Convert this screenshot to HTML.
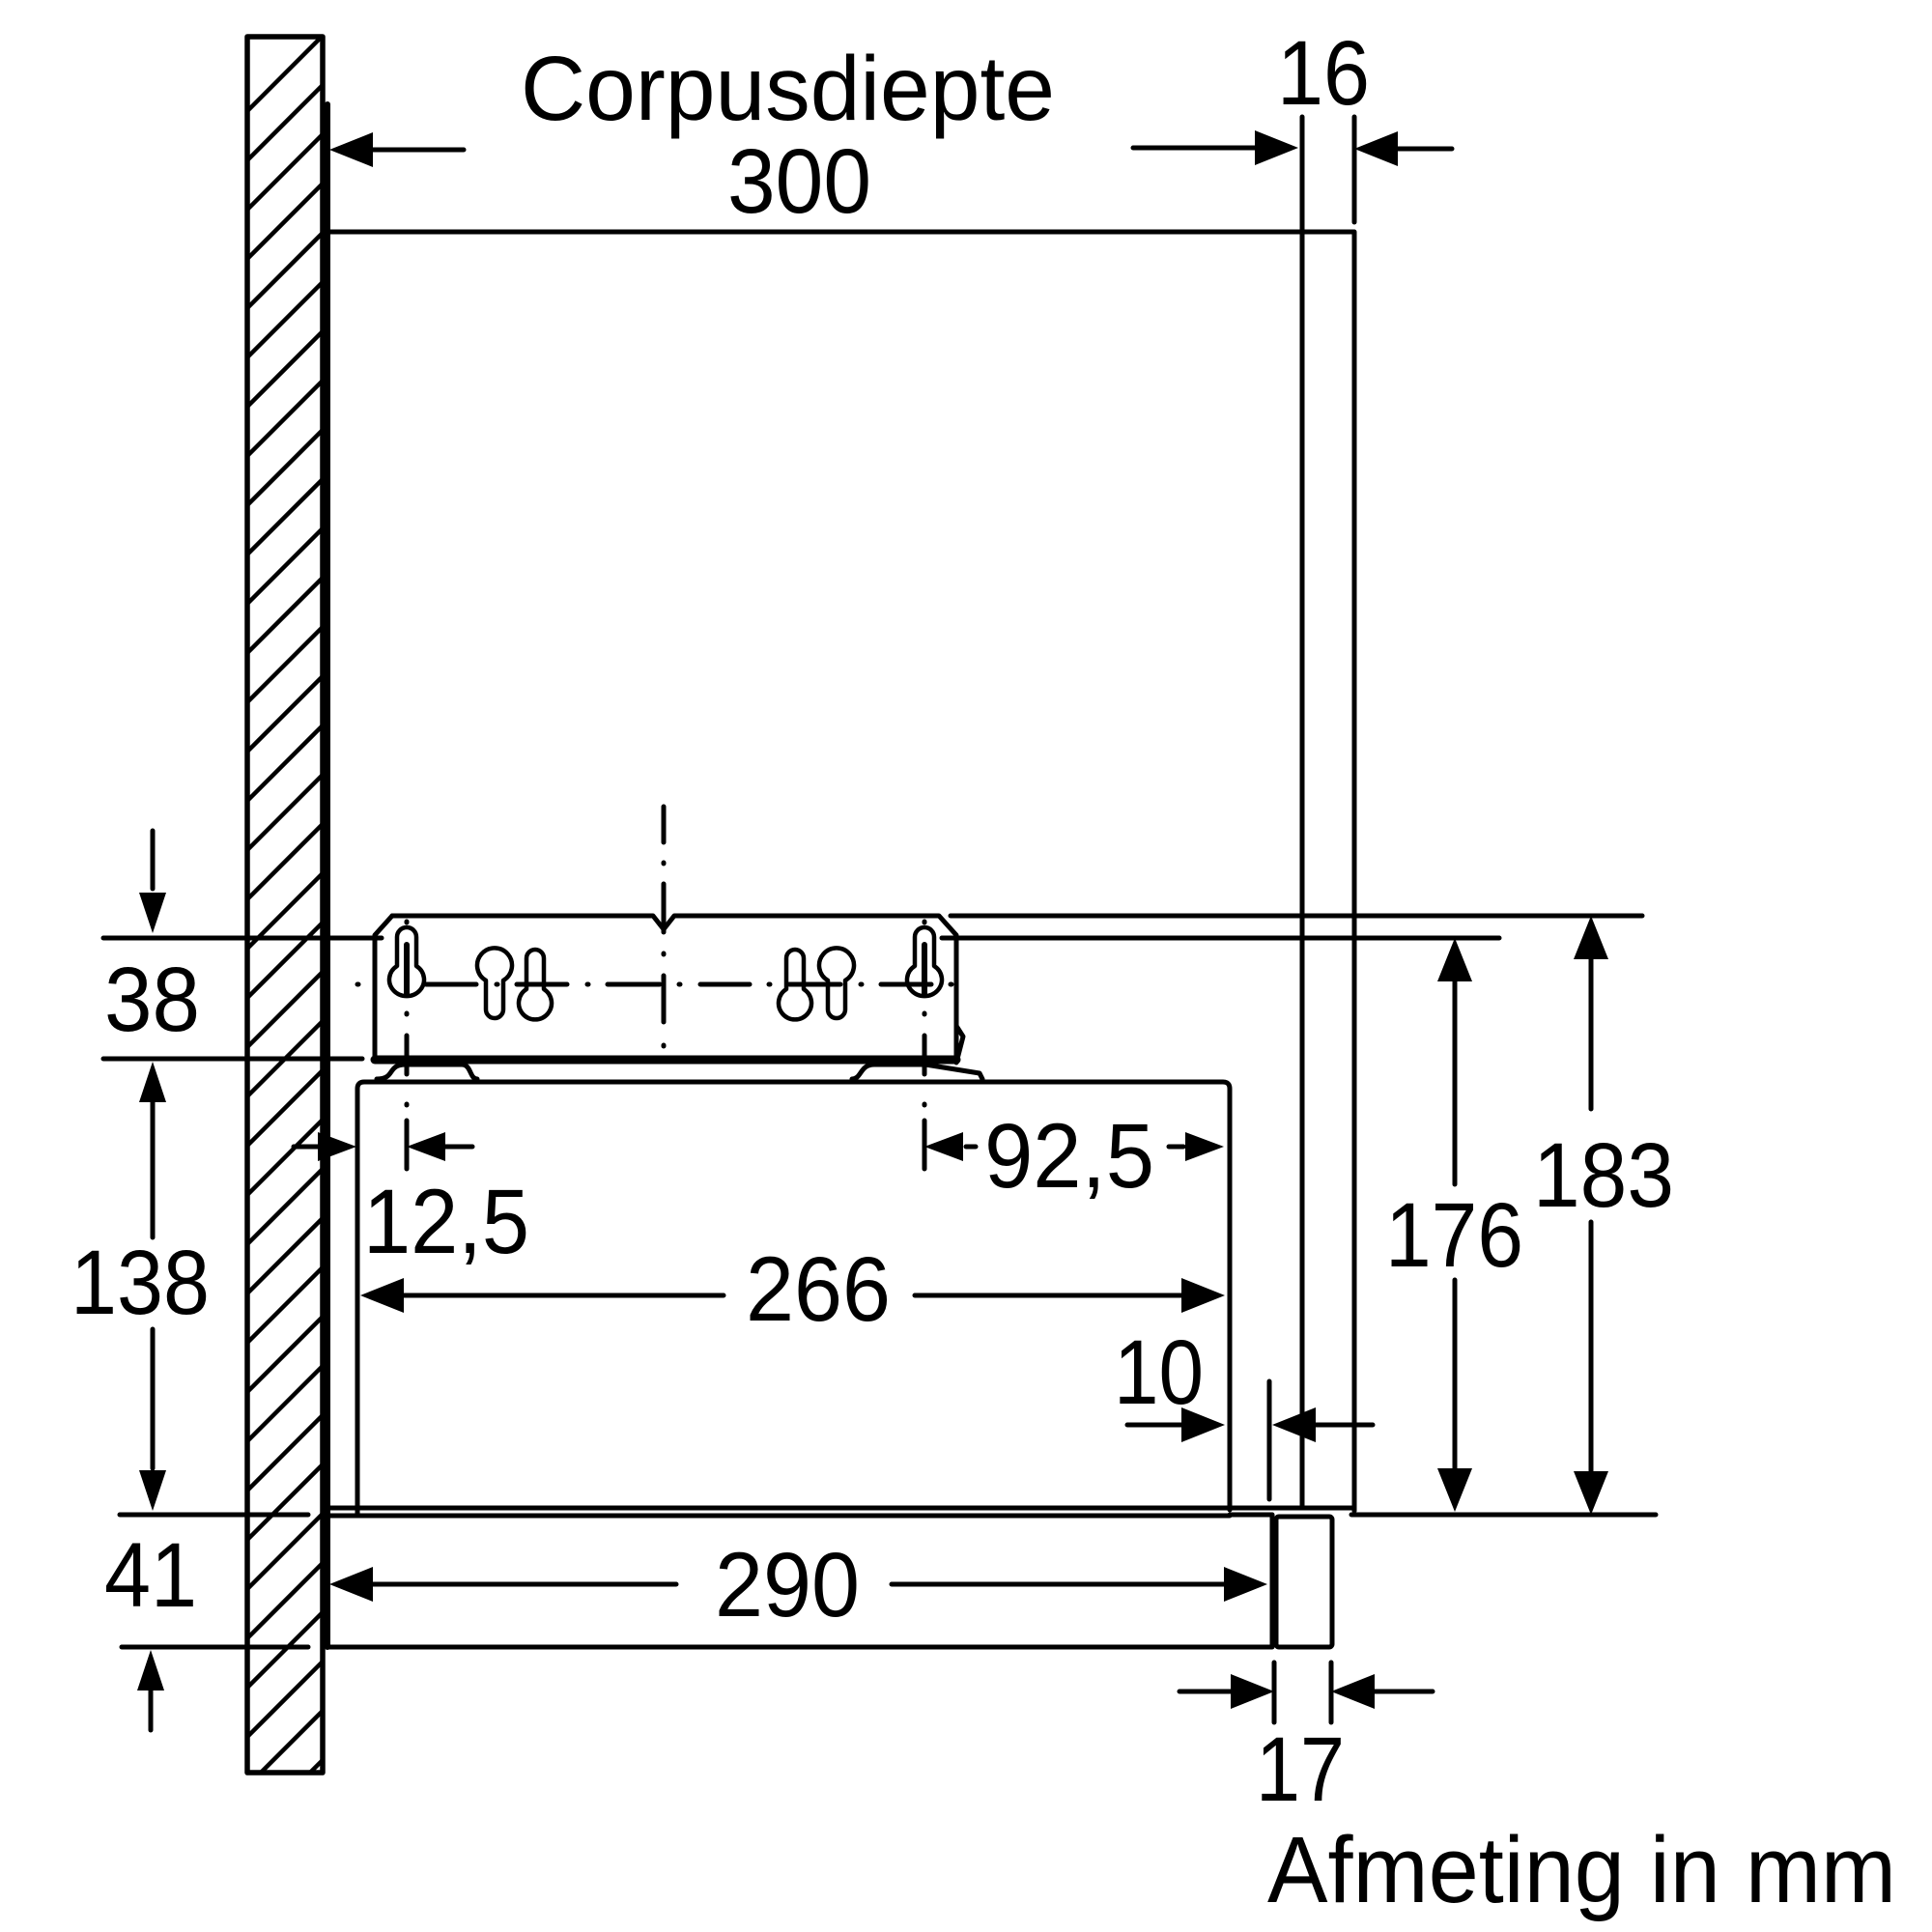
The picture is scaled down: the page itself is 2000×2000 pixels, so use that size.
<!DOCTYPE html>
<html><head><meta charset="utf-8"><style>
html,body{margin:0;padding:0;background:#fff}
svg{display:block}
text{font-family:"Liberation Sans",Arial,sans-serif;fill:#000}
</style></head><body>
<svg width="2000" height="2000" viewBox="0 0 2000 2000" xmlns="http://www.w3.org/2000/svg">
<defs>
<clipPath id="wc"><rect x="257" y="39" width="76" height="1794"/></clipPath>
</defs>
<g stroke="#000" stroke-width="5" fill="none" stroke-linecap="round" stroke-linejoin="round">
<rect x="256" y="38" width="78" height="1797" stroke-width="5.5"/>
<g clip-path="url(#wc)" stroke-width="4.5">
<path d="M255,116 l80,-80 M255,167 l80,-80 M255,218 l80,-80 M255,269 l80,-80 M255,320 l80,-80 M255,371 l80,-80 M255,422 l80,-80 M255,473 l80,-80 M255,524 l80,-80 M255,575 l80,-80 M255,626 l80,-80 M255,677 l80,-80 M255,728 l80,-80 M255,779 l80,-80 M255,830 l80,-80 M255,881 l80,-80 M255,932 l80,-80 M255,983 l80,-80 M255,1034 l80,-80 M255,1085 l80,-80 M255,1136 l80,-80 M255,1187 l80,-80 M255,1238 l80,-80 M255,1289 l80,-80 M255,1340 l80,-80 M255,1391 l80,-80 M255,1442 l80,-80 M255,1493 l80,-80 M255,1544 l80,-80 M255,1595 l80,-80 M255,1646 l80,-80 M255,1697 l80,-80 M255,1748 l80,-80 M255,1799 l80,-80 M255,1850 l80,-80 M255,1901 l80,-80"/>
</g>
<path d="M339,108 V1705" stroke-width="6"/>
<path d="M339,240 H1402 V1564"/>
<path d="M1348,121 V1561"/>
<path d="M1402,121 V230"/>
<path d="M385,155 H480"/>
<path d="M1173,153 H1300 M1425,154 H1503"/>
<path d="M984,948 H1700"/>
<path d="M975,971 H1552"/>
<path d="M107,971 H395"/>
<path d="M107,1096 H375"/>
<path d="M406,948 H676 L687,962 L698,948 H972 L990,968 V1093"/>
<path d="M406,948 L388,968 V1095 H990"/>
<path d="M388,1097 H990" stroke-width="9"/>
<path d="M990,1062 L997,1073 L990,1100"/>
<path d="M390,1117 C410,1117 400,1102 420,1102 H478 C488,1102 486,1117 494,1117"/>
<path d="M882,1117 C892,1117 890,1102 905,1102 H958 L1014,1111 L1017,1117"/>
<path d="M370,1568 V1127 Q370,1120 377,1120 H1266 Q1273,1120 1273,1127 V1563"/>
<path d="M339,1561 H1402"/>
<path d="M339,1569 H1273"/>
<path d="M1273,1568 H1317 V1705 H339"/>
<rect x="1321" y="1570" width="58" height="135" rx="3"/>
<path d="M1399,1568 H1714"/>
<path d="M124,1568 H319"/>
<path d="M126,1705 H319"/>
<path d="M370,1019 h1 M441,1019 h52 M514,1019 h1 M535,1019 h52 M608,1019 h1 M629,1019 h54 M703,1019 h1 M725,1019 h51 M796,1019 h1 M817,1019 h53 M891,1019 h1 M912,1019 h52 M984,1019 h1"/>
<path d="M687,835 v37 M687,893 v1 M687,915 v50 M687,987 v1 M687,1010 v48 M687,1082 v1"/>
<path d="M421,954 v1 M421,1049 v1 M421,1072 v40 M421,1143 v1 M421,1160 v50"/>
<path d="M957,954 v1 M957,1049 v1 M957,1072 v40 M957,1143 v1 M957,1160 v50"/>
<g stroke-width="4.5">
<path d="M411,1000 V970 a10,10 0 0 1 20,0 V1000 a18,17 0 1 1 -20,0 Z"/>
<path d="M421,978 V1030" stroke-width="6"/>
<path d="M503,1015 a18,18 0 1 1 18,0 V1045 a9,9 0 0 1 -18,0 Z"/>
<path d="M545,1024 V992 a9,9 0 0 1 18,0 V1024 a17,17 0 1 1 -18,0 Z"/>
<path d="M814,1024 V992 a9,9 0 0 1 18,0 V1024 a17,17 0 1 1 -18,0 Z"/>
<path d="M857,1015 a18,18 0 1 1 18,0 V1045 a9,9 0 0 1 -18,0 Z"/>
<path d="M947,1000 V970 a10,10 0 0 1 20,0 V1000 a18,17 0 1 1 -20,0 Z"/>
<path d="M957,978 V1030" stroke-width="6"/>
</g>
<path d="M158,860 V920"/>
<path d="M158,1140 V1281 M158,1376 V1520"/>
<path d="M156,1750 V1791"/>
<path d="M304,1187 H330"/>
<path d="M460,1187 H489"/>
<path d="M1000,1187 H1010 M1210,1187 H1225"/>
<path d="M415,1341 H749 M947,1341 H1225"/>
<path d="M1167,1475 H1225 M1360,1475 H1421"/>
<path d="M1314,1430 V1552"/>
<path d="M385,1640 H700 M923,1640 H1268"/>
<path d="M1319,1721 V1783 M1378,1721 V1783"/>
<path d="M1221,1751 H1275 M1422,1751 H1483"/>
<path d="M1506,1015 V1226 M1506,1325 V1520"/>
<path d="M1647,992 V1148 M1647,1265 V1524"/>
</g>
<g fill="#000" stroke="none">
<path d="M341,155 l45,-18 v36 Z"/>
<path d="M1344,153 l-45,-18 v36 Z"/>
<path d="M1402,154 l45,-18 v36 Z"/>
<path d="M158,966 l-14,-42 h28 Z"/>
<path d="M158,1099 l-14,42 h28 Z"/>
<path d="M158,1564 l-14,-42 h28 Z"/>
<path d="M156,1708 l-14,42 h28 Z"/>
<path d="M369,1187 l-40,-15 v30 Z"/>
<path d="M421,1187 l40,-15 v30 Z"/>
<path d="M957,1187 l40,-15 v30 Z"/>
<path d="M1267,1187 l-40,-15 v30 Z"/>
<path d="M373,1341 l45,-18 v36 Z"/>
<path d="M1268,1341 l-45,-18 v36 Z"/>
<path d="M1268,1475 l-45,-18 v36 Z"/>
<path d="M1317,1475 l45,-18 v36 Z"/>
<path d="M341,1640 l45,-18 v36 Z"/>
<path d="M1312,1640 l-45,-18 v36 Z"/>
<path d="M1319,1751 l-45,-18 v36 Z"/>
<path d="M1378,1751 l45,-18 v36 Z"/>
<path d="M1506,971 l-18,45 h36 Z"/>
<path d="M1506,1565 l-18,-45 h36 Z"/>
<path d="M1647,948 l-18,45 h36 Z"/>
<path d="M1647,1568 l-18,-45 h36 Z"/>
</g>
<g font-size="95">
<text x="539" y="124" textLength="553" lengthAdjust="spacingAndGlyphs">Corpusdiepte</text>
<text x="753" y="220" textLength="149" lengthAdjust="spacingAndGlyphs">300</text>
<text x="1322" y="108" textLength="96" lengthAdjust="spacingAndGlyphs">16</text>
<text x="108" y="1067" textLength="99" lengthAdjust="spacingAndGlyphs">38</text>
<text x="73" y="1360" textLength="144" lengthAdjust="spacingAndGlyphs">138</text>
<text x="108" y="1663" textLength="96" lengthAdjust="spacingAndGlyphs">41</text>
<text x="376" y="1297" textLength="172" lengthAdjust="spacingAndGlyphs">12,5</text>
<text x="1019" y="1229" textLength="176" lengthAdjust="spacingAndGlyphs">92,5</text>
<text x="772" y="1367" textLength="150" lengthAdjust="spacingAndGlyphs">266</text>
<text x="1153" y="1453" textLength="93" lengthAdjust="spacingAndGlyphs">10</text>
<text x="740" y="1673" textLength="150" lengthAdjust="spacingAndGlyphs">290</text>
<text x="1434" y="1311" textLength="143" lengthAdjust="spacingAndGlyphs">176</text>
<text x="1587" y="1249" textLength="146" lengthAdjust="spacingAndGlyphs">183</text>
<text x="1300" y="1864" textLength="92" lengthAdjust="spacingAndGlyphs">17</text>
<text x="1312" y="1969" font-size="97" textLength="651" lengthAdjust="spacingAndGlyphs">Afmeting in mm</text>
</g>
</svg>
</body></html>
